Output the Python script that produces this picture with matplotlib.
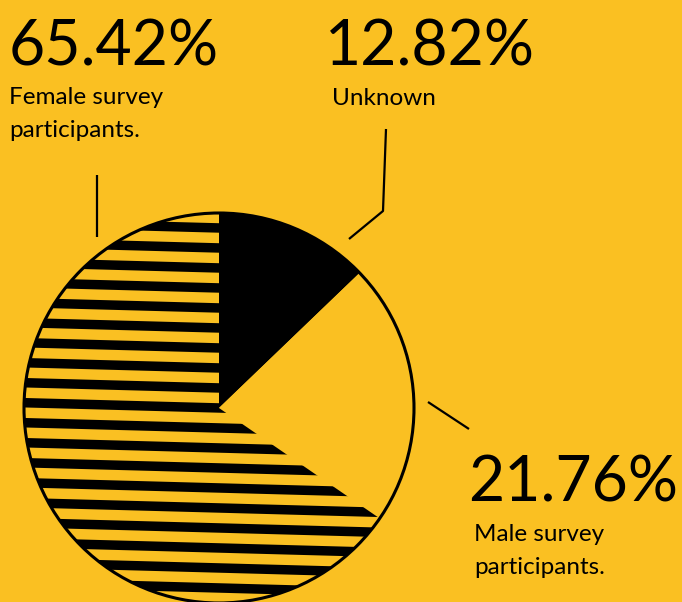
import matplotlib.pyplot as plt
from matplotlib.patches import Circle, Polygon

W, H = 682, 602
BG = '#FAC022'

# slice order: clockwise from 12 o'clock
names = ['Unknown', 'Male survey\nparticipants.', 'Female survey\nparticipants.']
shares = [12.82, 21.76, 65.42]
pct_labels = ['12.82%', '21.76%', '65.42%']

# label anchors in image pixels: big number (x, baseline), caption (x, first baseline)
num_pos = [(325, 65), (468, 501), (9, 65)]
cap_pos = [(332, 105), (474, 541), (9, 104)]

# leader lines in image pixels
leaders = [
    [(386, 129), (383, 211), (349, 239)],
    [(428, 402), (469, 429)],
    [(97, 175), (97, 237)],
]

plt.rcParams['font.family'] = ['Lato', 'DejaVu Sans']

fig = plt.figure(figsize=(W / 100, H / 100), dpi=100, facecolor=BG)
ax = fig.add_axes([0, 0, 1, 1])
ax.set_facecolor(BG)

cx, cy, r = 219, H - 408, 195

wedges, _ = ax.pie(
    shares,
    colors=['black', BG, BG],
    startangle=90,
    counterclock=False,
    center=(cx, cy),
    radius=r,
    wedgeprops=dict(linewidth=0),
)

# horizontal stripes in the female slice, slightly tilted
slope = 0.027
x0, x1 = cx - r - 10, cx + r + 10
for k in range(-14, 14):
    top = 382.7 + 20 * k
    bot = top + 9.5
    pts = [
        (x0, H - (top + slope * (x0 - 200))),
        (x1, H - (top + slope * (x1 - 200))),
        (x1, H - (bot + slope * (x1 - 200))),
        (x0, H - (bot + slope * (x0 - 200))),
    ]
    stripe = Polygon(pts, closed=True, color='black', lw=0)
    ax.add_patch(stripe)
    stripe.set_clip_path(wedges[2])

ax.add_patch(Circle((cx, cy), r, fill=False, ec='black', lw=2.2))

for line in leaders:
    xs = [p[0] for p in line]
    ys = [H - p[1] for p in line]
    ax.plot(xs, ys, color='black', lw=1.6, solid_capstyle='butt')

for name, pct, (nx, ny), (tx, ty) in zip(names, pct_labels, num_pos, cap_pos):
    ax.text(nx, H - ny, pct, fontsize=45,
            ha='left', va='baseline', color='black')
    for i, part in enumerate(name.split('\n')):
        ax.text(tx, H - (ty + 33 * i), part, fontsize=17.5,
                ha='left', va='baseline', color='black')

ax.set_xlim(0, W)
ax.set_ylim(0, H)
ax.set_aspect('auto')
ax.axis('off')

fig.savefig('out.png', dpi=100, facecolor=BG)
